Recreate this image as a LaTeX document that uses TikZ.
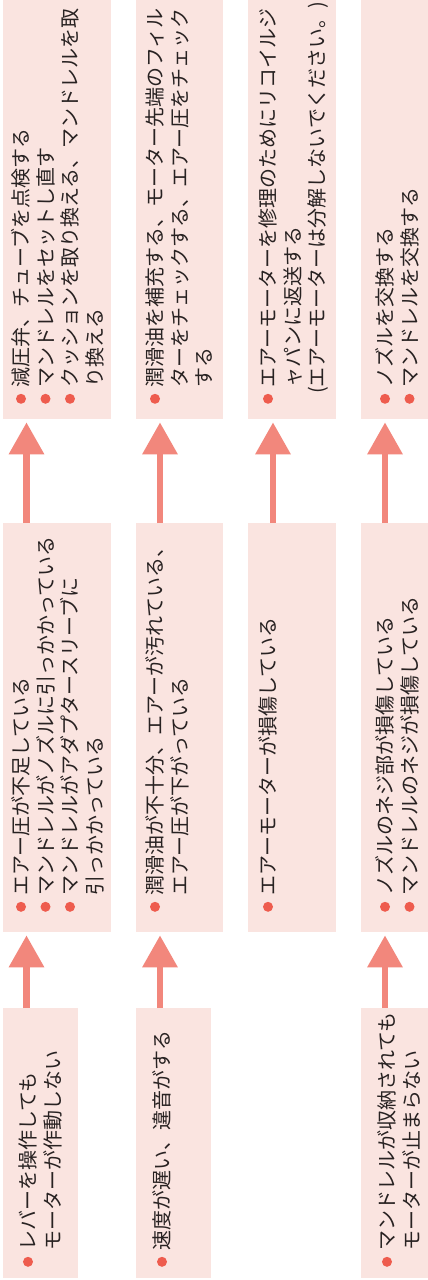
\documentclass[tikz,border=0pt]{standalone}
\usepackage{fontspec}
\setmainfont{Noto Sans CJK JP}
\usetikzlibrary{arrows.meta}
\definecolor{boxc}{RGB}{250,228,224}
\definecolor{arrc}{RGB}{242,135,124}
\definecolor{bulc}{RGB}{238,92,78}
\definecolor{txtc}{RGB}{40,34,34}
\newcommand\bu{\hspace*{1pt}\raisebox{2.6pt}{\tikz\fill[bulc] (0,0) circle (5pt);}\hspace*{6pt}}
\newcommand\ind{\hspace*{17pt}}
\tikzset{
  box/.style={fill=boxc, draw=none, anchor=north west, inner sep=0pt},
  txt/.style={rotate=90, anchor=base west, inner sep=0pt, text=txtc,
    font=\fontsize{20}{24.5}\selectfont},
  arr/.style={draw=arrc, line width=6.5pt,
    -{Triangle[length=32pt,width=34pt]}, shorten >=3pt},
}
\begin{document}
\begin{tikzpicture}[x=1pt,y=-1pt]
\useasboundingbox (0,0) rectangle (428,1280);
\fill[white] (0,0) rectangle (428,1280);
% remedy boxes
\node[box, minimum width=108pt, minimum height=421pt] (r1) at (3,-2) {};
\node[box, minimum width=87pt, minimum height=421pt] (r2) at (136,-2) {};
\node[box, minimum width=88pt, minimum height=421pt] (r3) at (248,-2) {};
\node[box, minimum width=70pt, minimum height=421pt] (r4) at (361,-2) {};
% cause boxes
\node[box, minimum width=108pt, minimum height=409pt] (c1) at (3,523) {};
\node[box, minimum width=87pt, minimum height=409pt] (c2) at (136,523) {};
\node[box, minimum width=88pt, minimum height=409pt] (c3) at (248,523) {};
\node[box, minimum width=70pt, minimum height=409pt] (c4) at (361,523) {};
% symptom boxes
\node[box, minimum width=75pt, minimum height=270pt] (s1) at (3,1008) {};
\node[box, minimum width=75pt, minimum height=270pt] (s2) at (136,1008) {};
\node[box, minimum width=70pt, minimum height=270pt] (s4) at (361,1008) {};
% arrow columns
\coordinate (a1) at (26.5,0);
\coordinate (a2) at (160,0);
\coordinate (a3) at (273,0);
\coordinate (a4) at (385,0);
\draw[arr] (c1.north -| a1) -- (r1.south -| a1);
\draw[arr] (c2.north -| a2) -- (r2.south -| a2);
\draw[arr] (c3.north -| a3) -- (r3.south -| a3);
\draw[arr] (c4.north -| a4) -- (r4.south -| a4);
\draw[arr] (s1.north -| a1) -- (c1.south -| a1);
\draw[arr] (s2.north -| a2) -- (c2.south -| a2);
\draw[arr] (s4.north -| a4) -- (c4.south -| a4);
% remedy texts
\node[txt] (r1t) at (28.6,405) {\vtop{%
\hbox{\bu 減圧弁、チューブを点検する}
\hbox{\bu マンドレルをセットし直す}
\hbox{\bu クッションを取り換える、マンドレルを取}
\hbox{\ind り換える}}};
\node[txt] (r2t) at (162.6,405) {\vtop{%
\hbox{\bu 潤滑油を補充する、モーター先端のフィル}
\hbox{\ind ターをチェックする、エアー圧をチェック}
\hbox{\ind する}}};
\node[txt] (r3t) at (275.6,405) {\vtop{%
\hbox{\bu エアーモーターを修理のためにリコイルジ}
\hbox{\ind ャパンに返送する}
\hbox{\hspace*{11pt}(エアーモーターは分解しないでください。)}}};
\node[txt] (r4t) at (392.6,405) {\vtop{%
\hbox{\bu ノズルを交換する}
\hbox{\bu マンドレルを交換する}}};
% cause texts
\node[txt] (c1t) at (28.6,913) {\vtop{%
\hbox{\bu エアー圧が不足している}
\hbox{\bu マンドレルがノズルに引っかかっている}
\hbox{\bu マンドレルがアダプタースリーブに}
\hbox{\ind 引っかかっている}}};
\node[txt] (c2t) at (162.6,913) {\vtop{%
\hbox{\bu 潤滑油が不十分、エアーが汚れている、}
\hbox{\ind エアー圧が下がっている}}};
\node[txt] (c3t) at (275.6,913) {\vtop{%
\hbox{\bu エアーモーターが損傷している}}};
\node[txt] (c4t) at (392.6,913) {\vtop{%
\hbox{\bu ノズルのネジ部が損傷している}
\hbox{\bu マンドレルのネジが損傷している}}};
% symptom texts
\node[txt] (s1t) at (35.6,1268) {\vtop{%
\hbox{\bu レバーを操作しても}
\hbox{\ind モーターが作動しない}}};
\node[txt] (s2t) at (169.6,1268) {\vtop{%
\hbox{\bu 速度が遅い、違音がする}}};
\node[txt] (s4t) at (394.6,1268) {\vtop{%
\hbox{\bu マンドレルが収納されても}
\hbox{\ind モーターが止まらない}}};
\end{tikzpicture}
\end{document}
